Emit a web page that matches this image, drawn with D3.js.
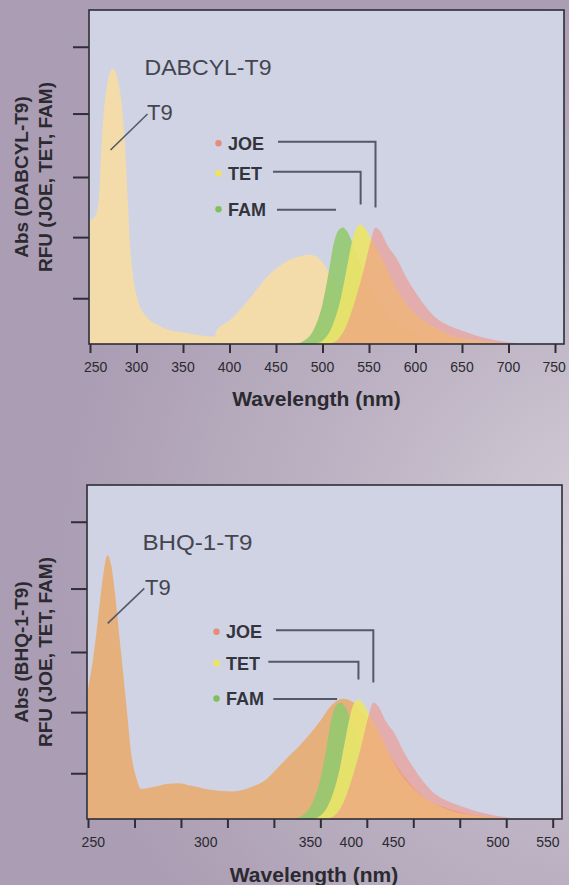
<!DOCTYPE html>
<html>
<head>
<meta charset="utf-8">
<script src="https://cdn.jsdelivr.net/npm/d3@7"></script>
<style>
  html, body { margin: 0; padding: 0; background: #b0a4b8; }
  svg { display: block; }
  text { font-family: "Liberation Sans", Arial, sans-serif; }
</style>
</head>
<body>
<script>
// ---------------- DATA ----------------
// Wavelength (nm) / relative intensity pairs
const dabcylT9Abs = [
  [250,0.37],[256,0.385],[259.5,0.43],[262.5,0.6],[267.5,0.76],[274.5,0.825],[282,0.76],
  [287.3,0.61],[291,0.41],[292.7,0.31],[296,0.21],[301.6,0.13],[310.6,0.082],[326.7,0.052],
  [355,0.032],[384,0.022],[386,0.04],[400,0.07],[420,0.13],[440,0.2],[460,0.245],
  [475,0.262],[487,0.267],[500,0.245],[510,0.2],[520,0.15],[530,0.1],[545,0.05],[560,0.02],[580,0]
];
const bhq1T9Abs = [
  [250,0.39],[255,0.47],[260,0.58],[265,0.7],[271,0.79],[275,0.76],[278,0.7],[285.5,0.5],
  [292.7,0.3],[296.3,0.2],[301.6,0.127],[307,0.09],[320,0.096],[335,0.105],[347,0.107],
  [360,0.1],[380,0.088],[405,0.082],[425,0.095],[440,0.115],[452,0.147],[465,0.185],
  [480,0.227],[498,0.287],[514,0.346],[525,0.36],[535,0.35],[545,0.32],[560,0.26],
  [575,0.19],[590,0.13],[605,0.08],[620,0.05],[640,0.03],[660,0.015],[680,0.007],[700,0]
];
const famEm = [
  [470,0],[480,0.01],[490,0.04],[500,0.12],[507,0.22],[512,0.3],[517,0.34],[522,0.349],
  [527,0.335],[535,0.28],[545,0.21],[560,0.13],[575,0.075],[600,0.03],[630,0.01],[660,0]
];
const tetEm = [
  [490,0],[500,0.01],[510,0.05],[520,0.14],[527,0.24],[532,0.31],[537,0.35],[541,0.358],
  [546,0.345],[555,0.3],[565,0.25],[575,0.19],[585,0.14],[600,0.09],[620,0.05],[640,0.025],
  [670,0.01],[700,0]
];
const joeEm = [
  [505,0],[515,0.01],[525,0.05],[535,0.13],[545,0.23],[552,0.31],[557,0.349],[562,0.338],
  [570,0.295],[580,0.255],[590,0.2],[600,0.155],[610,0.115],[620,0.083],[635,0.056],
  [650,0.04],[675,0.018],[700,0.005],[712,0]
];

const xTickValues = [250,300,350,400,450,500,550,600,650,700,750];
const topTickLabels = ["250","300","350","400","450","500","550","600","650","700","750"];
const topTickLabelAt = [256,300,350,400,450,500,550,600,650,700,749];
const bottomTickLabels = ["250","300","350","400","450","500","550"];
const bottomTickLabelAt = [255.7,376.7,489.2,533.3,578.9,691.1,744.9];
const yTickValues = [0.137,0.32,0.50,0.69,0.89];

const dyeNames = ["JOE","TET","FAM"];
const xTitle = "Wavelength (nm)";

// ---------------- STYLE / LAYOUT ----------------
const W = 569, H = 885;
const colors = {
  panel: "#cfd3e4",
  dabcyl: "#f3dcaa",
  bhq: "#e5b07c",
  FAM: "#93c96f",
  TET: "#ece46a",
  JOE: "#f0968a",
  frame: "#2e2e36",
  text: "#2a2a30",
  annot: "#44454f",
  line: "#555965"
};
const dotColors = { JOE: "#e88a7c", TET: "#f1e35a", FAM: "#7fbf5c" };
const emissions = { FAM: famEm, TET: tetEm, JOE: joeEm };

const panels = [
  {
    frame: {x0: 89, x1: 564, y0: 10, y1: 344},
    xRange: [90, 555],
    abs: dabcylT9Abs, absColor: colors.dabcyl,
    name: "DABCYL-T9", nameLen: 127,
    yLabel: ["Abs (DABCYL-T9)", "RFU (JOE, TET, FAM)"],
    tickLabels: topTickLabels, tickLabelAt: topTickLabelAt,
    legendRows: {JOE: 133.3, TET: 163.3, FAM: 199.3},
    lineStart: {JOE: 189, TET: 184, FAM: 188},
    famLineEnd: 514.5,
    t9Leader: [[21.5,140],[58.5,104]],
    titleY: 405.5, titleX: 316.5, tickLabelY: 371.5
  },
  {
    frame: {x0: 87, x1: 562, y0: 485, y1: 819},
    xRange: [88, 552.7],
    abs: bhq1T9Abs, absColor: colors.bhq,
    name: "BHQ-1-T9", nameLen: 110,
    yLabel: ["Abs (BHQ-1-T9)", "RFU (JOE, TET, FAM)"],
    tickLabels: bottomTickLabels, tickLabelAt: bottomTickLabelAt,
    legendRows: {JOE: 146.7, TET: 178.3, FAM: 213.5},
    lineStart: {JOE: 189, TET: 181.3, FAM: 186.3},
    famLineEnd: 518,
    t9Leader: [[20.7,138.3],[57.3,103.3]],
    titleY: 881.5, titleX: 314, tickLabelY: 846.5
  }
];

// ---------------- DRAW ----------------
const svg = d3.select("body").append("svg").attr("width", W).attr("height", H);
const defs = svg.append("defs");
const grad = defs.append("radialGradient").attr("id","bg")
  .attr("gradientUnits","userSpaceOnUse").attr("cx",620).attr("cy",560).attr("r",560);
grad.append("stop").attr("offset","0%").attr("stop-color","#d6d1da");
grad.append("stop").attr("offset","45%").attr("stop-color","#c0b6c6");
grad.append("stop").attr("offset","100%").attr("stop-color","#ab9db3");
svg.append("rect").attr("width",W).attr("height",H).attr("fill","url(#bg)");

panels.forEach((p, i) => {
  const f = p.frame;
  const x = d3.scaleLinear().domain([250, 750]).range(p.xRange);
  const y = d3.scaleLinear().domain([0, 1]).range([f.y1, f.y0]);
  const g = svg.append("g");

  defs.append("clipPath").attr("id", "clip" + i)
    .append("rect").attr("x", f.x0).attr("y", f.y0).attr("width", f.x1 - f.x0).attr("height", f.y1 - f.y0);

  g.append("rect").attr("x", f.x0).attr("y", f.y0).attr("width", f.x1 - f.x0).attr("height", f.y1 - f.y0)
    .attr("fill", colors.panel);

  const area = d3.area().x(d => x(d[0])).y0(y(0)).y1(d => y(d[1])).curve(d3.curveMonotoneX);
  const plot = g.append("g").attr("clip-path", `url(#clip${i})`);
  plot.append("path").datum(p.abs).attr("d", area).attr("fill", p.absColor);
  plot.append("path").datum(famEm).attr("d", area).attr("fill", colors.FAM).attr("fill-opacity", 0.9);
  plot.append("path").datum(tetEm).attr("d", area).attr("fill", colors.TET).attr("fill-opacity", 0.92);
  plot.append("path").datum(joeEm).attr("d", area).attr("fill", colors.JOE).attr("fill-opacity", 0.62);

  // frame
  g.append("rect").attr("x", f.x0).attr("y", f.y0).attr("width", f.x1 - f.x0).attr("height", f.y1 - f.y0)
    .attr("fill", "none").attr("stroke", colors.frame).attr("stroke-width", 1.6);

  // x axis ticks
  const xAxis = d3.axisBottom(x).tickValues(xTickValues).tickSize(9).tickFormat("");
  const xg = g.append("g").attr("transform", `translate(0,${f.y1})`).call(xAxis);
  xg.select(".domain").remove();
  xg.selectAll(".tick line").attr("stroke", colors.frame).attr("stroke-width", 2);
  g.selectAll(".xlab").data(p.tickLabels).enter().append("text")
    .attr("x", (d, k) => x(p.tickLabelAt[k])).attr("y", p.tickLabelY)
    .attr("text-anchor", "middle").attr("font-size", 14).attr("fill", colors.text).text(d => d);

  // y axis ticks (unlabelled)
  const yAxis = d3.axisLeft(y).tickValues(yTickValues).tickSize(16).tickFormat("");
  const yg = g.append("g").attr("transform", `translate(${f.x0},0)`).call(yAxis);
  yg.select(".domain").remove();
  yg.selectAll(".tick line").attr("stroke", colors.frame).attr("stroke-width", 2);

  // axis titles
  g.append("text").attr("x", p.titleX).attr("y", p.titleY).attr("text-anchor", "middle")
    .attr("font-size", 21).attr("font-weight", "bold").attr("fill", colors.text).text(xTitle);
  const cy = (f.y0 + f.y1) / 2;
  p.yLabel.forEach((t, k) => {
    g.append("text").attr("transform", `translate(${[27.5, 52][k]},${cy}) rotate(-90)`)
      .attr("text-anchor", "middle").attr("font-size", 19).attr("font-weight", "bold")
      .attr("fill", colors.text).text(t);
  });

  // annotations
  g.append("text").attr("x", f.x0 + 55.5).attr("y", f.y0 + 64.5).attr("font-size", 22)
    .attr("textLength", p.nameLen).attr("lengthAdjust", "spacingAndGlyphs")
    .attr("fill", colors.annot).text(p.name);
  g.append("text").attr("x", f.x0 + 58).attr("y", f.y0 + 110).attr("font-size", 22)
    .attr("fill", colors.annot).text("T9");
  g.append("line")
    .attr("x1", f.x0 + p.t9Leader[0][0]).attr("y1", f.y0 + p.t9Leader[0][1])
    .attr("x2", f.x0 + p.t9Leader[1][0]).attr("y2", f.y0 + p.t9Leader[1][1])
    .attr("stroke", colors.line).attr("stroke-width", 1.6);

  // legend with connectors to emission peaks
  dyeNames.forEach(name => {
    const ry = f.y0 + p.legendRows[name];
    g.append("circle").attr("cx", f.x0 + 129.5).attr("cy", ry).attr("r", 3.2)
      .attr("fill", dotColors[name]);
    g.append("text").attr("x", f.x0 + 139).attr("y", ry + 6.5).attr("font-size", 18)
      .attr("font-weight", "bold").attr("fill", "#33343c").text(name);
    const peak = d3.greatest(emissions[name], d => d[1]);
    const lx0 = f.x0 + p.lineStart[name];
    if (name === "FAM") {
      g.append("line").attr("x1", lx0).attr("x2", x(p.famLineEnd)).attr("y1", ry + 0.5).attr("y2", ry + 0.5)
        .attr("stroke", colors.line).attr("stroke-width", 2);
    } else {
      const px = x(peak[0]);
      g.append("path")
        .attr("d", `M${lx0},${ry - 1.5}H${px}V${y(peak[1]) - 20}`)
        .attr("fill", "none").attr("stroke", colors.line).attr("stroke-width", 2);
    }
  });
});
</script>
</body>
</html>
